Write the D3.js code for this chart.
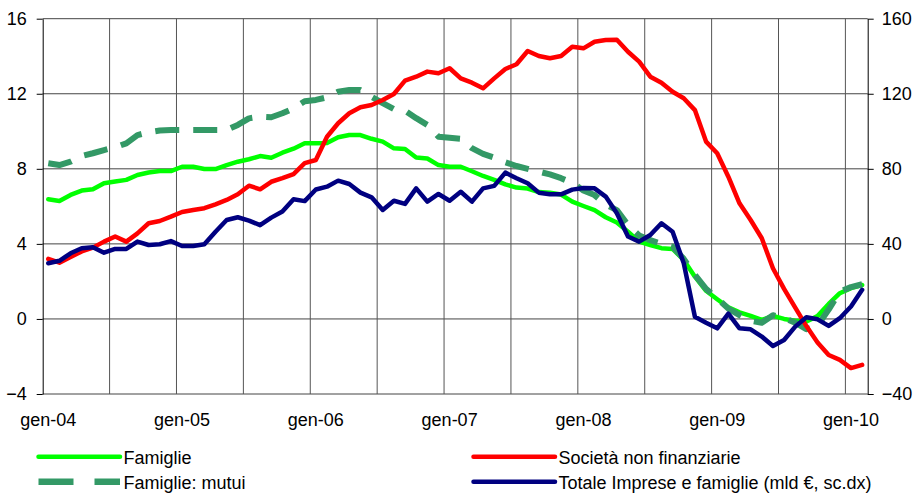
<!DOCTYPE html>
<html>
<head>
<meta charset="utf-8">
<script src="https://cdn.jsdelivr.net/npm/d3@7"></script>
<style>
  body { margin: 0; background: #fff; }
  text { font-family: "Liberation Sans", Arial, sans-serif; fill: #000; }
</style>
</head>
<body>
<div id="chart"></div>
<script>
// monthly data, gen-04 .. feb-10
var months = d3.timeMonths(new Date(2004, 0, 1), new Date(2010, 2, 1));

var famiglie = [6.38, 6.29, 6.61, 6.84, 6.91, 7.23, 7.32, 7.41, 7.67, 7.8, 7.88, 7.88,
  8.11, 8.11, 7.99, 7.99, 8.2, 8.38, 8.51, 8.68, 8.59, 8.86, 9.07, 9.36,
  9.36, 9.38, 9.68, 9.8, 9.8, 9.6, 9.45, 9.09, 9.06, 8.6, 8.55, 8.2,
  8.11, 8.11, 7.87, 7.62, 7.41, 7.17, 7.0, 6.95, 6.76, 6.72, 6.63, 6.25,
  6.02, 5.8, 5.42, 5.14, 4.65, 4.12, 3.94, 3.77, 3.73, 3.14, 2.25, 1.5,
  1.05, 0.62, 0.35, 0.16, -0.05, 0.16, 0.0, -0.1, -0.14, 0.15, 0.8, 1.37,
  1.64, 1.81];

var mutui = [8.3, 8.2, 8.38, 8.68, 8.83, 9.0, 9.15, 9.36, 9.8, 9.95, 10.04, 10.07,
  10.07, 10.07, 10.07, 10.07, 10.07, 10.34, 10.69, 10.78, 10.75, 10.96, 11.22, 11.6,
  11.67, 11.81, 12.11, 12.2, 12.2, 11.84, 11.5, 11.18, 11.1, 10.7, 10.34, 9.71,
  9.65, 9.6, 9.1, 8.8, 8.6, 8.35, 8.15, 8.0, 7.85, 7.7, 7.5, 7.25,
  6.85, 6.6, 6.1, 5.8, 5.0, 4.45, 4.2, 4.0, 3.85, 3.2, 2.35, 1.6,
  1.1, 0.55, 0.2, -0.1, -0.2, 0.2, 0.05, -0.2, -0.55, -0.35, 0.5, 1.45,
  1.7, 1.85];

var societa = [3.2, 3.0, 3.3, 3.6, 3.8, 4.12, 4.39, 4.12, 4.56, 5.1, 5.22, 5.45,
  5.7, 5.81, 5.9, 6.11, 6.34, 6.64, 7.1, 6.91, 7.31, 7.5, 7.72, 8.3,
  8.47, 9.71, 10.43, 10.96, 11.28, 11.4, 11.67, 11.99, 12.7, 12.91, 13.18, 13.09,
  13.36, 12.82, 12.59, 12.29, 12.82, 13.32, 13.57, 14.28, 14.01, 13.89, 14.01, 14.51,
  14.42, 14.77, 14.86, 14.88, 14.24, 13.71, 12.91, 12.59, 12.11, 11.76, 11.13, 9.45,
  8.83, 7.58, 6.16, 5.27, 4.3, 2.7, 1.6, 0.6, -0.38, -1.25, -1.92, -2.18,
  -2.62, -2.45];

// right scale, mld euro
var totale = [29.7, 31, 35, 37.7, 38.2, 35.3, 37.3, 37.3, 41.2, 39.4, 39.8, 41.5,
  38.9, 38.9, 39.8, 46.5, 52.7, 54.2, 52.4, 50, 54, 57.2, 63.8, 62.8,
  69, 70.5, 73.7, 71.9, 67.3, 64.8, 58.1, 63, 61.3, 69.6, 62.5, 66.6,
  63, 67.8, 62.5, 69.6, 70.9, 78, 75, 72.3, 67.3, 66.4, 66.4, 68.9,
  69.8, 69.6, 65.2, 56.3, 43.9, 41.2, 44.7, 51, 46.5, 29.7, 1.2, -2,
  -5, 2.8, -5, -5.5, -9.4, -14.4, -11.2, -4.1, 0.9, -0.2, -3.7, 0.4,
  6.6, 15.5];

var leftTicks = [-4, 0, 4, 8, 12, 16];
var rightTicks = [-40, 0, 40, 80, 120, 160];
var xLabels = ["gen-04", "gen-05", "gen-06", "gen-07", "gen-08", "gen-09", "gen-10"];

var width = 914, height = 497;
var plotLeft = 42.7, plotRight = 867.7, plotTop = 18.7, plotBottom = 394;

var svg = d3.select("#chart").append("svg")
    .attr("width", width)
    .attr("height", height);

var x = d3.scaleBand()
    .domain(d3.range(months.length))
    .range([plotLeft, plotRight])
    .padding(0);
var bw = x.bandwidth();

var yL = d3.scaleLinear().domain([-4, 16]).range([plotBottom, plotTop]);
var yR = d3.scaleLinear().domain([-40, 160]).range([plotBottom, plotTop]);

// grid
var grid = svg.append("g");
grid.selectAll(".hgrid")
    .data(leftTicks)
  .enter().append("line")
    .attr("x1", plotLeft).attr("x2", plotRight)
    .attr("y1", function(d) { return yL(d); })
    .attr("y2", function(d) { return yL(d); })
    .attr("stroke", "#444")
    .attr("stroke-width", 1);

grid.selectAll(".vgrid")
    .data(d3.range(6, months.length, 6))
  .enter().append("line")
    .attr("x1", function(i) { return x(i); })
    .attr("x2", function(i) { return x(i); })
    .attr("y1", plotTop).attr("y2", plotBottom)
    .attr("stroke", "#555")
    .attr("stroke-width", 1);

// axes
var axL = svg.append("g")
    .attr("transform", "translate(" + plotLeft + ",0)")
    .call(d3.axisLeft(yL).tickValues(leftTicks).tickSize(6).tickSizeOuter(0).tickPadding(10).tickFormat(d3.format("d")));
var axR = svg.append("g")
    .attr("transform", "translate(" + plotRight + ",0)")
    .call(d3.axisRight(yR).tickValues(rightTicks).tickSize(6).tickSizeOuter(0).tickPadding(8).tickFormat(d3.format("d")));

[axL, axR].forEach(function(ax) {
  ax.select(".domain").attr("stroke", "#000");
  ax.selectAll(".tick line").attr("stroke", "#000");
  ax.selectAll("text")
      .style("font-family", '"Liberation Sans", Arial, sans-serif')
      .style("font-size", "18px")
      .attr("fill", "#000");
});

svg.append("g").selectAll("text")
    .data(xLabels)
  .enter().append("text")
    .attr("x", function(d, k) { return x(k * 12) + bw / 2; })
    .attr("y", 426)
    .attr("text-anchor", "middle")
    .style("font-size", "18px")
    .text(function(d) { return d; });

// lines
function lineFor(scale) {
  return d3.line()
      .x(function(d, i) { return x(i) + bw / 2; })
      .y(function(d) { return scale(d); });
}

var series = [
  { values: famiglie, scale: yL, color: "#00ff00", w: 4.5, dash: null },
  { values: mutui, scale: yL, color: "#339966", w: 6, dash: "24,14" },
  { values: societa, scale: yL, color: "#ff0000", w: 4.5, dash: null },
  { values: totale, scale: yR, color: "#000080", w: 4.5, dash: null }
];

svg.append("g").selectAll("path")
    .data(series)
  .enter().append("path")
    .attr("d", function(s) { return lineFor(s.scale)(s.values); })
    .attr("fill", "none")
    .attr("stroke", function(s) { return s.color; })
    .attr("stroke-width", function(s) { return s.w; })
    .attr("stroke-dasharray", function(s) { return s.dash; })
    .attr("stroke-linejoin", "round")
    .attr("stroke-linecap", function(s) { return s.dash ? "butt" : "round"; });

// legend
var legend = [
  { label: "Famiglie", color: "#00ff00", w: 4.5, dash: null, x: 38.5, y: 456.7 },
  { label: "Famiglie: mutui", color: "#339966", w: 6.5, dash: "35,21", x: 38.5, y: 481.7 },
  { label: "Società non finanziarie", color: "#ff0000", w: 4.5, dash: null, x: 473.5, y: 456.7 },
  { label: "Totale Imprese e famiglie (mld €, sc.dx)", color: "#000080", w: 4.5, dash: null, x: 473.5, y: 481.7 }
];

var lg = svg.append("g").selectAll("g")
    .data(legend)
  .enter().append("g");

lg.append("line")
    .attr("x1", function(d) { return d.x; })
    .attr("x2", function(d) { return d.x + 81.5; })
    .attr("y1", function(d) { return d.y; })
    .attr("y2", function(d) { return d.y; })
    .attr("stroke", function(d) { return d.color; })
    .attr("stroke-width", function(d) { return d.w; })
    .attr("stroke-dasharray", function(d) { return d.dash; })
    .attr("stroke-linecap", function(d) { return d.dash ? "butt" : "round"; });

lg.append("text")
    .attr("x", function(d) { return d.x + 85; })
    .attr("y", function(d) { return d.y + 7.6; })
    .style("font-size", "18px")
    .text(function(d) { return d.label; });
</script>
</body>
</html>
